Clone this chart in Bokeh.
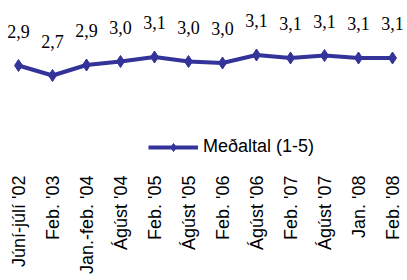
from bokeh.plotting import figure
from bokeh.models import ColumnDataSource, LabelSet, Range1d, FixedTicker, Legend, LegendItem
from bokeh.embed import file_html
from bokeh.resources import INLINE
import math

categories = ["Júní-júlí '02", "Feb. '03", "Jan.-feb. '04", "Ágúst '04", "Feb. '05", "Ágúst '05",
              "Feb. '06", "Ágúst '06", "Feb. '07", "Ágúst '07", "Jan. '08", "Feb. '08"]
values = [2.92, 2.72, 2.93, 3.00, 3.09, 3.00, 2.97, 3.13, 3.07, 3.12, 3.07, 3.07]
value_labels = ["2,9", "2,7", "2,9", "3,0", "3,1", "3,0", "3,0", "3,1", "3,1", "3,1", "3,1", "3,1"]
series_name = "Meðaltal (1-5)"

FONT = "Liberation Sans"
COLOR = "#333399"

xs = list(range(len(categories)))
src = ColumnDataSource(dict(x=xs, y=values, lab=value_labels))

p = figure(width=405, height=276, output_backend="svg", toolbar_location=None,
           x_range=Range1d(-18/34, (405 - 18)/34), y_range=Range1d(1.04, 4.22),
           min_border_left=0, min_border_right=0, min_border_top=0, min_border_bottom=0)
p.outline_line_color = None
p.grid.visible = False
p.yaxis.visible = False

ax = p.xaxis[0]
ax.ticker = FixedTicker(ticks=xs)
ax.major_label_overrides = {i: c for i, c in enumerate(categories)}
ax.major_label_orientation = math.pi / 2
ax.axis_line_color = None
ax.major_tick_line_color = None
ax.minor_tick_line_color = None
ax.major_label_text_font = FONT
ax.major_label_text_font_size = "18px"
ax.major_label_text_color = "black"
ax.major_label_standoff = 10

ln = p.line("x", "y", source=src, line_color=COLOR, line_width=4)
sc = p.scatter("x", "y", source=src, marker="diamond", size=12, fill_color=COLOR, line_color=COLOR)

labels = LabelSet(x="x", y="y", text="lab", source=src, y_offset=28, text_align="center",
                  text_baseline="alphabetic", text_font=FONT, text_font_size="18px", text_color="black")
p.add_layout(labels)

legend = Legend(items=[LegendItem(label=series_name, renderers=[ln, sc])], location=(148, 2))
legend.border_line_alpha = 0
legend.background_fill_alpha = 0
legend.padding = 0
legend.margin = 0
legend.glyph_width = 50
legend.glyph_height = 20
legend.label_standoff = 5
legend.label_text_font = FONT
legend.label_text_font_size = "18px"
legend.label_text_color = "black"
p.add_layout(legend)

open("out.html", "w").write(file_html(p, INLINE))
